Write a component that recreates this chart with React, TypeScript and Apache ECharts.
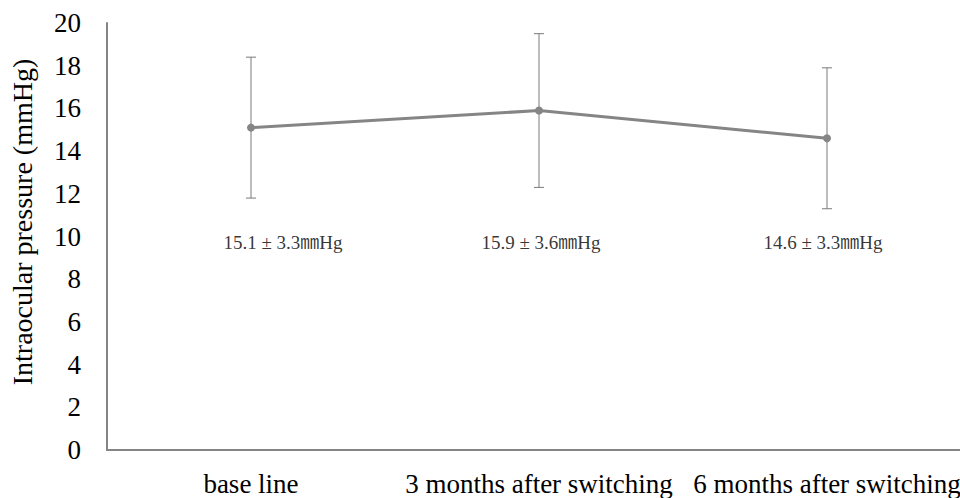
import React, { useEffect, useRef } from "react";
import * as echarts from "echarts";

const categories = ["base line", "3 months after switching", "6 months after switching"];
const means = [15.1, 15.9, 14.6];
const sds = [3.3, 3.6, 3.3];
const annotations = ["15.1 ± 3.3㎜Hg", "15.9 ± 3.6㎜Hg", "14.6 ± 3.3㎜Hg"];
const yTitle = "Intraocular pressure (mmHg)";

const ANNOT_Y = 9.7;
const annotOffsets = [32, 2, -4];
const SERIF = "Times New Roman, Liberation Serif, serif";
const ANNOT_FONT = "Times New Roman, Liberation Serif, Noto Sans CJK JP, serif";

export default function App() {
  const ref = useRef<HTMLDivElement>(null);
  useEffect(() => {
    if (!ref.current) return;
    const chart = echarts.init(ref.current, undefined, { renderer: "svg" });
    const errData = means.map((m, i) => [i, m - sds[i], m + sds[i]]);
    chart.setOption({
      animation: false,
      backgroundColor: "#ffffff",
      grid: { left: 107, top: 23, width: 864, height: 427, containLabel: false, outerBoundsMode: "none" },
      xAxis: {
        type: "category",
        data: categories,
        boundaryGap: true,
        axisLine: { lineStyle: { color: "#858585", width: 2 } },
        axisTick: { show: false },
        axisLabel: { color: "#000", fontFamily: SERIF, fontSize: 27, margin: 20, interval: 0 },
        splitLine: { show: false },
      },
      yAxis: {
        type: "value",
        min: 0,
        max: 20,
        interval: 2,
        axisLine: { show: true, lineStyle: { color: "#858585", width: 2 } },
        axisTick: { show: false },
        axisLabel: { color: "#000", fontFamily: SERIF, fontSize: 27, margin: 26 },
        splitLine: { show: false },
      },
      graphic: [
        {
          type: "text",
          x: 22,
          y: 222,
          rotation: Math.PI / 2,
          style: {
            text: yTitle,
            fill: "#000",
            fontFamily: SERIF,
            fontSize: 28,
            textAlign: "center",
            textVerticalAlign: "middle",
          },
        },
      ],
      series: [
        {
          type: "custom",
          data: errData,
          z: 1,
          renderItem: (params: any, api: any) => {
            const x = api.value(0);
            const lo = api.coord([x, api.value(1)]);
            const hi = api.coord([x, api.value(2)]);
            const w = 5;
            const st = { stroke: "#7a7a7a", lineWidth: 1 };
            return {
              type: "group",
              children: [
                { type: "line", shape: { x1: lo[0], y1: lo[1], x2: hi[0], y2: hi[1] }, style: st },
                { type: "line", shape: { x1: lo[0] - w, y1: lo[1], x2: lo[0] + w, y2: lo[1] }, style: st },
                { type: "line", shape: { x1: hi[0] - w, y1: hi[1], x2: hi[0] + w, y2: hi[1] }, style: st },
              ],
            };
          },
        },
        {
          type: "line",
          data: means,
          z: 3,
          symbol: "circle",
          symbolSize: 8,
          itemStyle: { color: "#858585" },
          lineStyle: { color: "#858585", width: 3 },
        },
        {
          type: "scatter",
          data: annotations.map((t, i) => ({
            value: [i, ANNOT_Y],
            label: {
              show: true,
              formatter: t,
              position: "inside",
              offset: [annotOffsets[i], 0],
              color: "#000",
              fontFamily: ANNOT_FONT,
              fontSize: 19,
            },
          })),
          symbolSize: 1,
          itemStyle: { color: "rgba(0,0,0,0)" },
          silent: true,
        },
      ],
    });
    return () => chart.dispose();
  }, []);
  return <div ref={ref} style={{ width: 960, height: 498, position: "absolute", left: 0, top: 0 }} />;
}
